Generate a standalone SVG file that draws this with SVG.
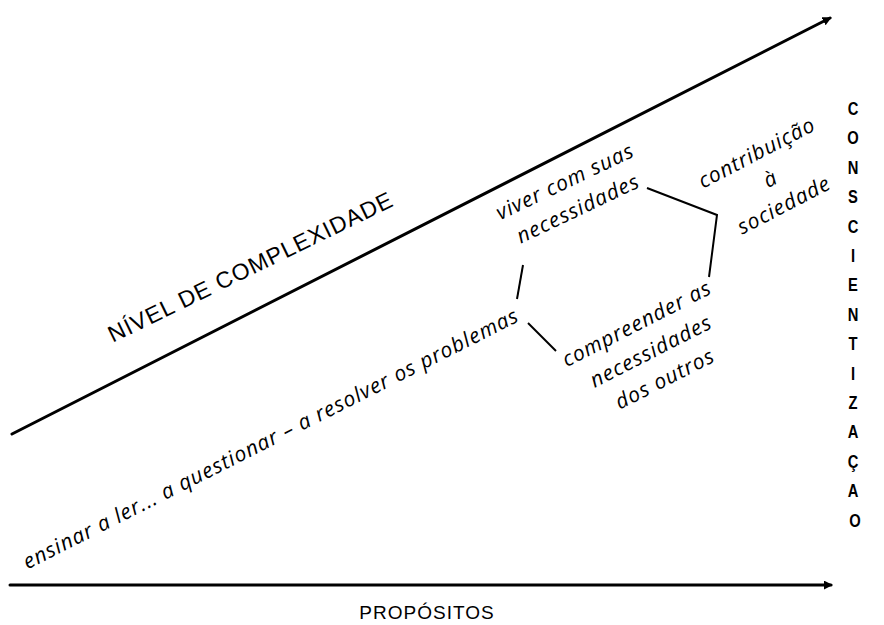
<svg xmlns="http://www.w3.org/2000/svg" width="884" height="625" viewBox="0 0 884 625">
  <defs>
    <marker id="arr" viewBox="0 0 10 10" refX="8" refY="5" markerWidth="3" markerHeight="3" orient="auto" markerUnits="strokeWidth">
      <path d="M0,0 L10,5 L0,10 z" fill="#000"/>
    </marker>
    <style>
      .axis { stroke:#000; stroke-width:3; fill:none; stroke-linecap:round; }
      .conn { stroke:#000; stroke-width:2; fill:none; stroke-linejoin:miter; }
      .lab { font-family:"Open Sans","Liberation Sans",sans-serif; font-style:italic; font-size:21px; letter-spacing:1px; fill:#000; text-anchor:middle; }
      .cap { font-family:"Liberation Sans","Arial",sans-serif; fill:#000; }
      .vert { font-family:"Liberation Sans","Arial",sans-serif; font-weight:bold; font-size:18px; fill:#000; text-anchor:middle; }
    </style>
  </defs>
  <rect width="884" height="625" fill="#fff"/>

  <g id="axes">
    <line class="axis" x1="12" y1="434" x2="830" y2="18" marker-end="url(#arr)"/>
    <line class="axis" x1="10" y1="585" x2="831" y2="585" marker-end="url(#arr)"/>
  </g>

  <g id="connectors">
    <polyline class="conn" points="647,188 717,215 709,277"/>
    <line class="conn" x1="523" y1="265" x2="517" y2="299"/>
    <line class="conn" x1="528" y1="323" x2="556" y2="351"/>
  </g>

  <g id="nivel">
    <text class="cap" font-size="23" letter-spacing="1" text-anchor="middle" transform="translate(254,274) rotate(-26)">NÍVEL DE COMPLEXIDADE</text>
  </g>

  <g id="ensinar">
    <text class="lab" transform="translate(274,445) rotate(-26.8)">ensinar a ler... a questionar – a resolver os problemas</text>
  </g>

  <g id="viver">
    <text class="lab" transform="translate(568,188) rotate(-25.5)"><tspan x="0" dy="0">viver com suas</tspan><tspan x="0" dy="30">necessidades</tspan></text>
  </g>

  <g id="contribuicao">
    <text class="lab" transform="translate(760,159) rotate(-27.5)"><tspan x="0" dy="0">contribuição</tspan><tspan x="0" dy="29.5">à</tspan><tspan x="0" dy="29.5">sociedade</tspan></text>
  </g>

  <g id="compreender">
    <text class="lab" transform="translate(640,330) rotate(-27)"><tspan x="0" dy="0">compreender as</tspan><tspan x="0" dy="31">necessidades</tspan><tspan x="0" dy="31">dos outros</tspan></text>
  </g>

  <g id="conscientizacao">
    <text class="vert" transform="translate(855,0) scale(0.82,1)">
      <tspan x="0" y="115">C</tspan>
      <tspan x="0" y="144.4">O</tspan>
      <tspan x="0" y="173.8">N</tspan>
      <tspan x="0" y="203.2">S</tspan>
      <tspan x="0" y="232.6">C</tspan>
      <tspan x="0" y="262">I</tspan>
      <tspan x="0" y="291.4">E</tspan>
      <tspan x="0" y="320.8">N</tspan>
      <tspan x="0" y="350.2">T</tspan>
      <tspan x="0" y="379.6">I</tspan>
      <tspan x="0" y="409">Z</tspan>
      <tspan x="0" y="438.4">A</tspan>
      <tspan x="0" y="467.8">Ç</tspan>
      <tspan x="0" y="497.2">A</tspan>
      <tspan x="0" y="526.6">O</tspan>
    </text>
  </g>

  <g id="propositos">
    <text class="cap" font-size="19" letter-spacing="1" text-anchor="middle" x="427" y="619">PROPÓSITOS</text>
  </g>
</svg>
